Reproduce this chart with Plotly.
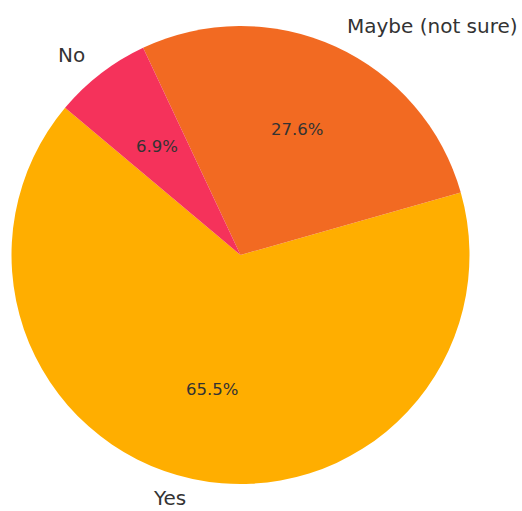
import math
import plotly.graph_objects as go

labels = ["Yes", "Maybe (not sure)", "No"]
values = [19, 8, 2]
colors = ["#FFAE00", "#F26A22", "#F5325B"]

W, H = 522, 511
cx, cy, r = 240.5, 255.0, 229.0  # pie centre / radius in pixels
start_deg = 140.0  # matplotlib-style startangle (counterclockwise from 3 o'clock)

total = sum(values)
first_span = 360.0 * values[0] / total
# plotly (counterclockwise) puts the end of the first slice at the rotation angle
rot = -(start_deg + first_span - 90.0)

fig = go.Figure()
fig.add_trace(go.Pie(
    labels=labels, values=values, sort=False,
    direction="counterclockwise", rotation=rot,
    marker=dict(colors=colors, line=dict(width=0)),
    textinfo="none", hoverinfo="label+percent", showlegend=False,
    domain=dict(x=[(cx - r) / W, (cx + r) / W], y=[1 - (cy + r) / H, 1 - (cy - r) / H]),
))

ang = start_deg
font_family = "DejaVu Sans"
for lab, v in zip(labels, values):
    span = 360.0 * v / total
    mid = math.radians(ang + span / 2)
    ang += span
    c, s = math.cos(mid), math.sin(mid)
    lx = (cx + 1.1 * r * c) / W
    ly_px = min(cy - 1.1 * r * s, H - 13.5)  # keep label inside the page
    ly = 1 - ly_px / H
    fig.add_annotation(x=lx, y=ly, xref="paper", yref="paper", text=lab, showarrow=False,
                       xanchor="left" if c > 0 else "right", yanchor="middle",
                       font=dict(family=font_family, size=20, color="#333333"))
    px = (cx + 0.6 * r * c) / W
    py = 1 - (cy - 0.6 * r * s) / H
    fig.add_annotation(x=px, y=py, xref="paper", yref="paper", text=f"{100 * v / total:.1f}%",
                       showarrow=False, xanchor="center", yanchor="middle",
                       font=dict(family=font_family, size=16.5, color="#333333"))

fig.update_layout(width=W, height=H, margin=dict(l=0, r=0, t=0, b=0),
                  paper_bgcolor="white", plot_bgcolor="white")
fig.write_html("out.html")
